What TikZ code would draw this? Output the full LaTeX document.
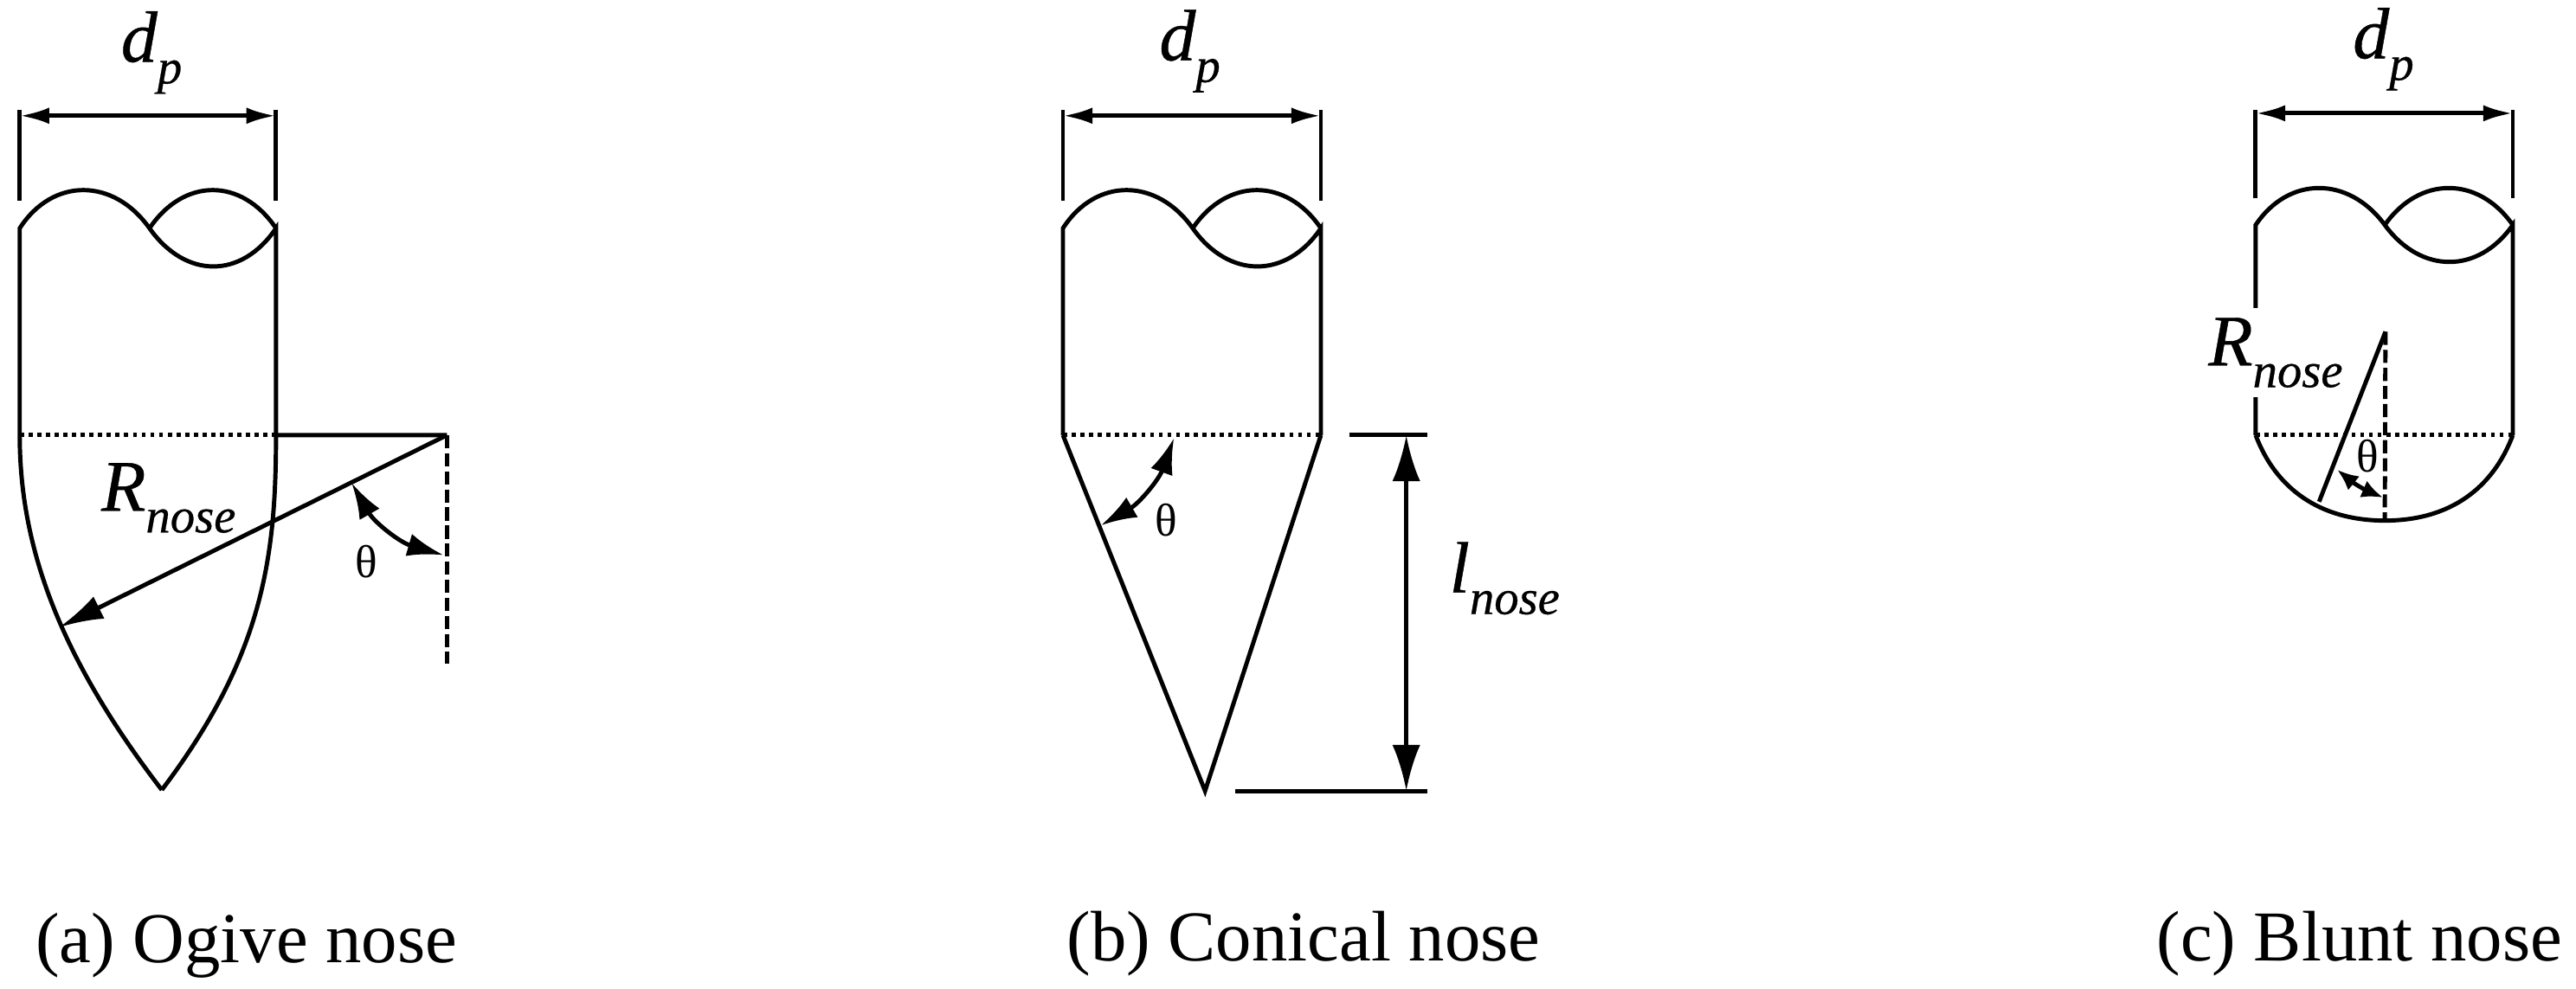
\documentclass[tikz,border=0pt]{standalone}
\usepackage{fontspec}
\setmainfont{Liberation Serif}
\newfontfamily\symbolfont[ItalicFeatures={FakeBold=0.5}]{Liberation Serif}
\usepackage{tikz}
\usetikzlibrary{arrows.meta}
\tikzstyle{corner} = [coordinate]
\tikzstyle{outline} = [line width=0.026cm]
\tikzstyle{middle} = [line width=0.026cm, dash pattern=on 0.025cm off 0.028cm]
\tikzstyle{axis} = [line width=0.026cm, dash pattern=on 0.08cm off 0.03cm]
\tikzstyle{width} = [line width=0.026cm, {Latex[length=0.18cm,width=0.1cm]}-{Latex[length=0.18cm,width=0.1cm]}]
\tikzstyle{radius} = [line width=0.026cm, -{Latex[length=0.27cm,width=0.15cm]}]
\tikzstyle{length} = [line width=0.026cm, {Latex[length=0.28cm,width=0.17cm]}-{Latex[length=0.28cm,width=0.17cm]}]
\tikzstyle{angle} = [line width=0.026cm, {Latex[length=0.22cm,width=0.14cm]}-{Latex[length=0.22cm,width=0.14cm]}]
\tikzstyle{symbol} = [inner sep=0pt, anchor=base west, font=\fontsize{12.6}{15}\selectfont\symbolfont\itshape]
\tikzstyle{greek} = [inner sep=0pt, font=\fontsize{8}{9}\selectfont]
\tikzstyle{caption} = [inner sep=0pt, anchor=base west, font=\fontsize{12.4}{15}\selectfont]
\newcommand{\lowtext}[1]{\raisebox{-0.65ex}{\fontsize{8.5}{10}\selectfont #1}}

\begin{document}
\begin{tikzpicture}
    \useasboundingbox (0,0) rectangle (15.68,6.017);
    % % % % % % % % % % % % % % % % % % % % % % %
    % Ogive nose
    % % % % % % % % % % % % % % % % % % % % % % %
    % Body corners
    \node [corner] (atl) at (0.12,4.627) {};
    \node [corner, right of=atl, node distance=0.79cm] (aj) {};
    \node [corner, right of=atl, node distance=1.56cm] (atr) {};
    \node [corner, below of=atl, node distance=1.26cm] (abl) {};
    \node [corner, below of=atr, node distance=1.26cm] (abr) {};
    \node [corner] (atip) at (0.985,1.207) {};

    % Width dimension
    \node [corner] (aext1) at (0.12,5.347) {};
    \node [corner, below of=aext1, node distance=0.55cm] (aext2) {};
    \node [corner] (aext3) at (1.68,5.347) {};
    \node [corner, below of=aext3, node distance=0.55cm] (aext4) {};
    \node [corner] (adl) at (0.12,5.312) {};
    \node [corner] (adr) at (1.68,5.312) {};
    \node [symbol] (adp) at (0.73,5.641) {d\lowtext{p}};

    % Radius and angle
    \node [corner] (acen) at (2.72,3.367) {};
    \node [corner, below of=acen, node distance=1.39cm] (aaxis) {};
    \node [corner] (arad) at (0.36,2.197) {};
    \node [corner] (ath1) at (2.14,3.077) {};
    \node [corner] (ath2) at (2.70,2.637) {};
    \node [symbol] (arn) at (0.61,2.907) {R\lowtext{nose}};
    \node [greek] (ath) at (2.23,2.597) {θ};

    \draw [outline] (abl) -- (atl) .. controls +(0.2,0.31) and +(-0.22,0.31) .. (aj)
        .. controls +(0.22,-0.31) and +(-0.21,-0.31) .. (atr) -- (abr);
    \draw [outline] (aj) .. controls +(0.21,0.31) and +(-0.21,0.31) .. (atr);
    \draw [outline] (abl) .. controls (0.12,2.69) and (0.36,2.02) .. (atip);
    \draw [outline] (abr) .. controls (1.68,2.62) and (1.60,2.02) .. (atip);
    \draw [outline] (aext1) -- (aext2);
    \draw [outline] (aext3) -- (aext4);
    \draw [width] (adl) -- (adr);
    \draw [middle] (abl) -- (abr);
    \draw [outline] (abr) -- (acen);
    \draw [axis] (acen) -- (aaxis);
    \draw [radius] (acen) -- (arad);
    \draw [angle] (ath1) to [bend right=22] (ath2);
    \node [caption] (acap) at (0.21,0.157) {(a) Ogive nose};

    % % % % % % % % % % % % % % % % % % % % % % %
    % Conical nose
    % % % % % % % % % % % % % % % % % % % % % % %
    % Body corners
    \node [corner] (btl) at (6.47,4.627) {};
    \node [corner, right of=btl, node distance=0.79cm] (bj) {};
    \node [corner, right of=btl, node distance=1.57cm] (btr) {};
    \node [corner, below of=btl, node distance=1.26cm] (bbl) {};
    \node [corner, below of=btr, node distance=1.26cm] (bbr) {};
    \node [corner] (btip) at (7.335,1.201) {};

    % Width dimension
    \node [corner] (bext1) at (6.47,5.347) {};
    \node [corner, below of=bext1, node distance=0.55cm] (bext2) {};
    \node [corner] (bext3) at (8.04,5.347) {};
    \node [corner, below of=bext3, node distance=0.55cm] (bext4) {};
    \node [corner] (bdl) at (6.47,5.312) {};
    \node [corner] (bdr) at (8.04,5.312) {};
    \node [symbol] (bdp) at (7.05,5.65) {d\lowtext{p}};

    % Length dimension
    \node [corner] (bbar1) at (8.216,3.367) {};
    \node [corner] (bbar2) at (8.69,3.367) {};
    \node [corner] (bbar3) at (7.52,1.201) {};
    \node [corner] (bbar4) at (8.69,1.201) {};
    \node [corner] (bl1) at (8.56,3.367) {};
    \node [corner] (bl2) at (8.56,1.201) {};
    \node [symbol] (bln) at (8.816,2.41) {l\lowtext{nose}};

    % Angle
    \node [corner] (bth1) at (7.146,3.35) {};
    \node [corner] (bth2) at (6.70,2.817) {};
    \node [greek] (bth) at (7.10,2.851) {θ};

    \draw [outline] (bbl) -- (btl) .. controls +(0.2,0.31) and +(-0.22,0.31) .. (bj)
        .. controls +(0.22,-0.31) and +(-0.21,-0.31) .. (btr) -- (bbr);
    \draw [outline] (bj) .. controls +(0.21,0.31) and +(-0.21,0.31) .. (btr);
    \draw [outline] (bbl) -- (btip) -- (bbr);
    \draw [outline] (bext1) -- (bext2);
    \draw [outline] (bext3) -- (bext4);
    \draw [width] (bdl) -- (bdr);
    \draw [middle] (bbl) -- (bbr);
    \draw [outline] (bbar1) -- (bbar2);
    \draw [outline] (bbar3) -- (bbar4);
    \draw [length] (bl1) -- (bl2);
    \draw [angle] (bth1) to [bend left=20] (bth2);
    \node [caption] (bcap) at (6.487,0.167) {(b) Conical nose};

    % % % % % % % % % % % % % % % % % % % % % % %
    % Blunt nose
    % % % % % % % % % % % % % % % % % % % % % % %
    % Body corners
    \node [corner] (ctl) at (13.73,4.647) {};
    \node [corner, right of=ctl, node distance=0.786cm] (cj) {};
    \node [corner, right of=ctl, node distance=1.565cm] (ctr) {};
    \node [corner] (cbl) at (13.73,3.367) {};
    \node [corner] (cbr) at (15.295,3.367) {};
    \node [corner] (ctip) at (14.516,2.847) {};

    % Width dimension
    \node [corner] (cext1) at (13.73,5.35) {};
    \node [corner, below of=cext1, node distance=0.541cm] (cext2) {};
    \node [corner] (cext3) at (15.295,5.35) {};
    \node [corner, below of=cext3, node distance=0.541cm] (cext4) {};
    \node [corner] (cdl) at (13.73,5.327) {};
    \node [corner] (cdr) at (15.295,5.327) {};
    \node [symbol] (cdp) at (14.315,5.662) {d\lowtext{p}};

    % Radius and angle
    \node [corner] (ccen) at (14.52,3.997) {};
    \node [corner] (crad) at (14.116,2.962) {};
    \node [corner] (cth1) at (14.226,3.157) {};
    \node [corner] (cth2) at (14.506,2.987) {};
    \node [greek] (cth) at (14.41,3.242) {θ};

    \draw [outline] (cbl) -- (ctl) .. controls +(0.2,0.3) and +(-0.22,0.3) .. (cj)
        .. controls +(0.22,-0.3) and +(-0.21,-0.3) .. (ctr) -- (cbr);
    \draw [outline] (cj) .. controls +(0.21,0.3) and +(-0.21,0.3) .. (ctr);
    \draw [outline] (cbl) .. controls +(0.12,-0.32) and +(-0.4,0) .. (ctip)
        .. controls +(0.4,0) and +(-0.12,-0.32) .. (cbr);
    \draw [outline] (cext1) -- (cext2);
    \draw [outline] (cext3) -- (cext4);
    \draw [width] (cdl) -- (cdr);
    \draw [middle] (cbl) -- (cbr);
    \draw [axis] (ccen) -- (ctip);
    \draw [outline] (ccen) -- (crad);
    \draw [line width=0.026cm, {Latex[length=0.13cm,width=0.11cm]}-{Latex[length=0.13cm,width=0.11cm]}] (cth1) to [bend right=8] (cth2);
    % label sits over the left wall
    \node [symbol, fill=white, minimum height=0.54cm] (crn) at (13.435,3.792) {R\lowtext{nose}};
    \node [caption] (ccap) at (13.12,0.167) {(c) Blunt nose};
\end{tikzpicture}
\end{document}
